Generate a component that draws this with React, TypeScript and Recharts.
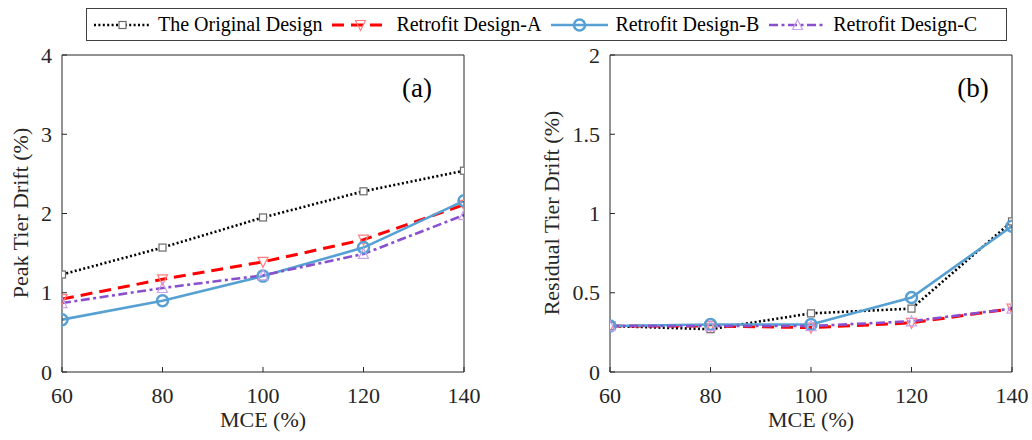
import React from 'react';
import { LineChart, Line, XAxis, YAxis } from 'recharts';

// MCE levels (%)
const mceLevels = [60, 80, 100, 120, 140];

// (a) peak tier drift (%)
const peakOriginal = [1.23, 1.57, 1.95, 2.28, 2.54];
const peakA = [0.92, 1.17, 1.39, 1.67, 2.11];
const peakB = [0.66, 0.9, 1.21, 1.57, 2.16];
const peakC = [0.87, 1.06, 1.22, 1.49, 1.98];

// (b) residual tier drift (%)
const resOriginal = [0.29, 0.27, 0.37, 0.4, 0.95];
const resA = [0.29, 0.29, 0.28, 0.31, 0.4];
const resB = [0.29, 0.3, 0.3, 0.47, 0.92];
const resC = [0.29, 0.29, 0.29, 0.32, 0.4];

const peakTicks = [0, 1, 2, 3, 4];
const resTicks = [0, 0.5, 1, 1.5, 2];

const seriesNames = ['The Original Design', 'Retrofit Design-A', 'Retrofit Design-B', 'Retrofit Design-C'];

const FONT = '"Liberation Serif", "Times New Roman", serif';
const AXIS = '#262626';

const toRows = (o: number[], a: number[], b: number[], c: number[]) =>
  mceLevels.map((m, i) => ({ mce: m, orig: o[i], a: a[i], b: b[i], c: c[i] }));

const peakData = toRows(peakOriginal, peakA, peakB, peakC);
const resData = toRows(resOriginal, resA, resB, resC);

type Mk = (cx: number, cy: number) => React.ReactElement;

const square: Mk = (cx, cy) => (
  <rect x={cx - 3.5} y={cy - 3.5} width={7} height={7} fill="#fff" stroke="#6a6a6a" strokeWidth={1.2} />
);
const triDown: Mk = (cx, cy) => (
  <polygon points={`${cx - 5},${cy - 4.5} ${cx + 5},${cy - 4.5} ${cx},${cy + 5.5}`} fill="none" stroke="#ff7f7f" strokeWidth={1.2} />
);
const circle: Mk = (cx, cy) => (
  <circle cx={cx} cy={cy} r={5.5} fill="none" stroke="#56a0d3" strokeWidth={2.5} />
);
const triUp: Mk = (cx, cy) => (
  <polygon points={`${cx - 5},${cy + 4.5} ${cx + 5},${cy + 4.5} ${cx},${cy - 5.5}`} fill="none" stroke="#c9a3ec" strokeWidth={1.2} />
);

const series = [
  { key: 'orig', color: '#000', width: 2.6, dash: '2 2.4', marker: square },
  { key: 'a', color: '#ff0000', width: 3, dash: '12 7', marker: triDown },
  { key: 'b', color: '#56a0d3', width: 2.6, dash: undefined, marker: circle },
  { key: 'c', color: '#8a4fcf', width: 2.6, dash: '9 3.5 3 3.5', marker: triUp },
];

const XTick = (p: any) => (
  <text x={p.x} y={p.y} dy="0.71em" textAnchor="middle" fontFamily="Liberation Serif" fontSize={22} fill={AXIS}>
    {p.payload.value}
  </text>
);
const YTick = (p: any) => (
  <text x={p.x} y={p.y} dy="0.35em" textAnchor="end" fontFamily="Liberation Serif" fontSize={22} fill={AXIS}>
    {p.payload.value}
  </text>
);

type PanelProps = {
  data: any[];
  yTicks: number[];
  yLabel: string;
  tag: string;
  left: number;
  marginLeft: number;
  marginRight: number;
  labelX: number;
  tagX: number;
};

const Panel = ({ data, yTicks, yLabel, tag, left, marginLeft, marginRight, labelX, tagX }: PanelProps) => {
  const plotLeft = marginLeft + 50;
  const plotRight = 516 - marginRight - 1;
  const yDomain = [yTicks[0], yTicks[yTicks.length - 1]];
  return (
    <div style={{ position: 'absolute', left, top: 0, width: 516, height: 440 }}>
      <LineChart width={516} height={440} data={data} margin={{ top: 54, right: marginRight, bottom: 8, left: marginLeft }}>
        <XAxis
          dataKey="mce"
          type="number"
          domain={[60, 140]}
          ticks={mceLevels}
          allowDataOverflow
          height={60}
          stroke={AXIS}
          tickSize={-5}
          tickMargin={20}
          tick={XTick}
        />
        {/* box: mirrored top and right axes with inward ticks */}
        <XAxis xAxisId="top" orientation="top" dataKey="mce" type="number" domain={[60, 140]} ticks={mceLevels}
          allowDataOverflow height={1} stroke={AXIS} tickSize={-5} tick={false} />
        <YAxis
          type="number"
          domain={yDomain}
          ticks={yTicks}
          allowDataOverflow
          width={50}
          stroke={AXIS}
          tickSize={-5}
          tickMargin={15}
          tick={YTick}
        />
        <YAxis yAxisId="right" orientation="right" type="number" domain={yDomain}
          ticks={yTicks} allowDataOverflow width={1} stroke={AXIS} tickSize={-5} tick={false} />
        {series.map((s) => (
          <Line
            key={s.key}
            dataKey={s.key}
            type="linear"
            stroke={s.color}
            strokeWidth={s.width}
            strokeDasharray={s.dash}
            dot={(p: any) => <g key={`${s.key}-${p.index}`}>{s.marker(p.cx, p.cy)}</g>}
            activeDot={false}
            isAnimationActive={false}
          />
        ))}
      </LineChart>
      <div style={{ position: 'absolute', left: plotLeft, width: plotRight - plotLeft, top: 405, textAlign: 'center', fontFamily: FONT, fontSize: 22, color: AXIS, lineHeight: '30px' }}>
        MCE (%)
      </div>
      <div style={{ position: 'absolute', left: labelX - 150, top: 213 - 15, width: 300, height: 30, lineHeight: '30px', textAlign: 'center', transform: 'rotate(-90deg)', fontFamily: FONT, fontSize: 22, color: AXIS, whiteSpace: 'nowrap' }}>
        {yLabel}
      </div>
      <div style={{ position: 'absolute', left: tagX - 30, top: 70, width: 60, textAlign: 'center', fontFamily: FONT, fontSize: 27, color: '#000', lineHeight: '36px' }}>
        {tag}
      </div>
    </div>
  );
};

const LegendSample = ({ idx }: { idx: number }) => {
  const s = series[idx];
  return (
    <svg width={57} height={14} style={{ display: 'block' }}>
      <line x1={0} y1={7} x2={57} y2={7} stroke={s.color} strokeWidth={s.width} strokeDasharray={s.dash} />
      {s.marker(28.5, 7)}
    </svg>
  );
};

export default function App() {
  return (
    <div style={{ position: 'absolute', left: 0, top: 0, width: 1032, height: 440, background: '#fff', overflow: 'hidden', fontFamily: FONT }}>
      <Panel data={peakData} yTicks={peakTicks} yLabel="Peak Tier Drift (%)" tag="(a)" left={0}
        marginLeft={12} marginRight={51} labelX={21} tagX={417} />
      <Panel data={resData} yTicks={resTicks} yLabel="Residual Tier Drift (%)" tag="(b)" left={516}
        marginLeft={44} marginRight={19} labelX={36} tagX={457} />
      <div
        style={{
          position: 'absolute', left: 86, top: 8, width: 921, height: 33, boxSizing: 'border-box',
          border: '1px solid #404040', background: '#fff', display: 'flex', alignItems: 'center',
          paddingLeft: 7, fontFamily: FONT, fontSize: 20, color: '#000',
        }}
      >
        {seriesNames.map((name, i) => (
          <div key={name} style={{ display: 'flex', alignItems: 'center', marginRight: 10 }}>
            <LegendSample idx={i} />
            <span style={{ marginLeft: 7, whiteSpace: 'nowrap' }}>{name}</span>
          </div>
        ))}
      </div>
    </div>
  );
}
